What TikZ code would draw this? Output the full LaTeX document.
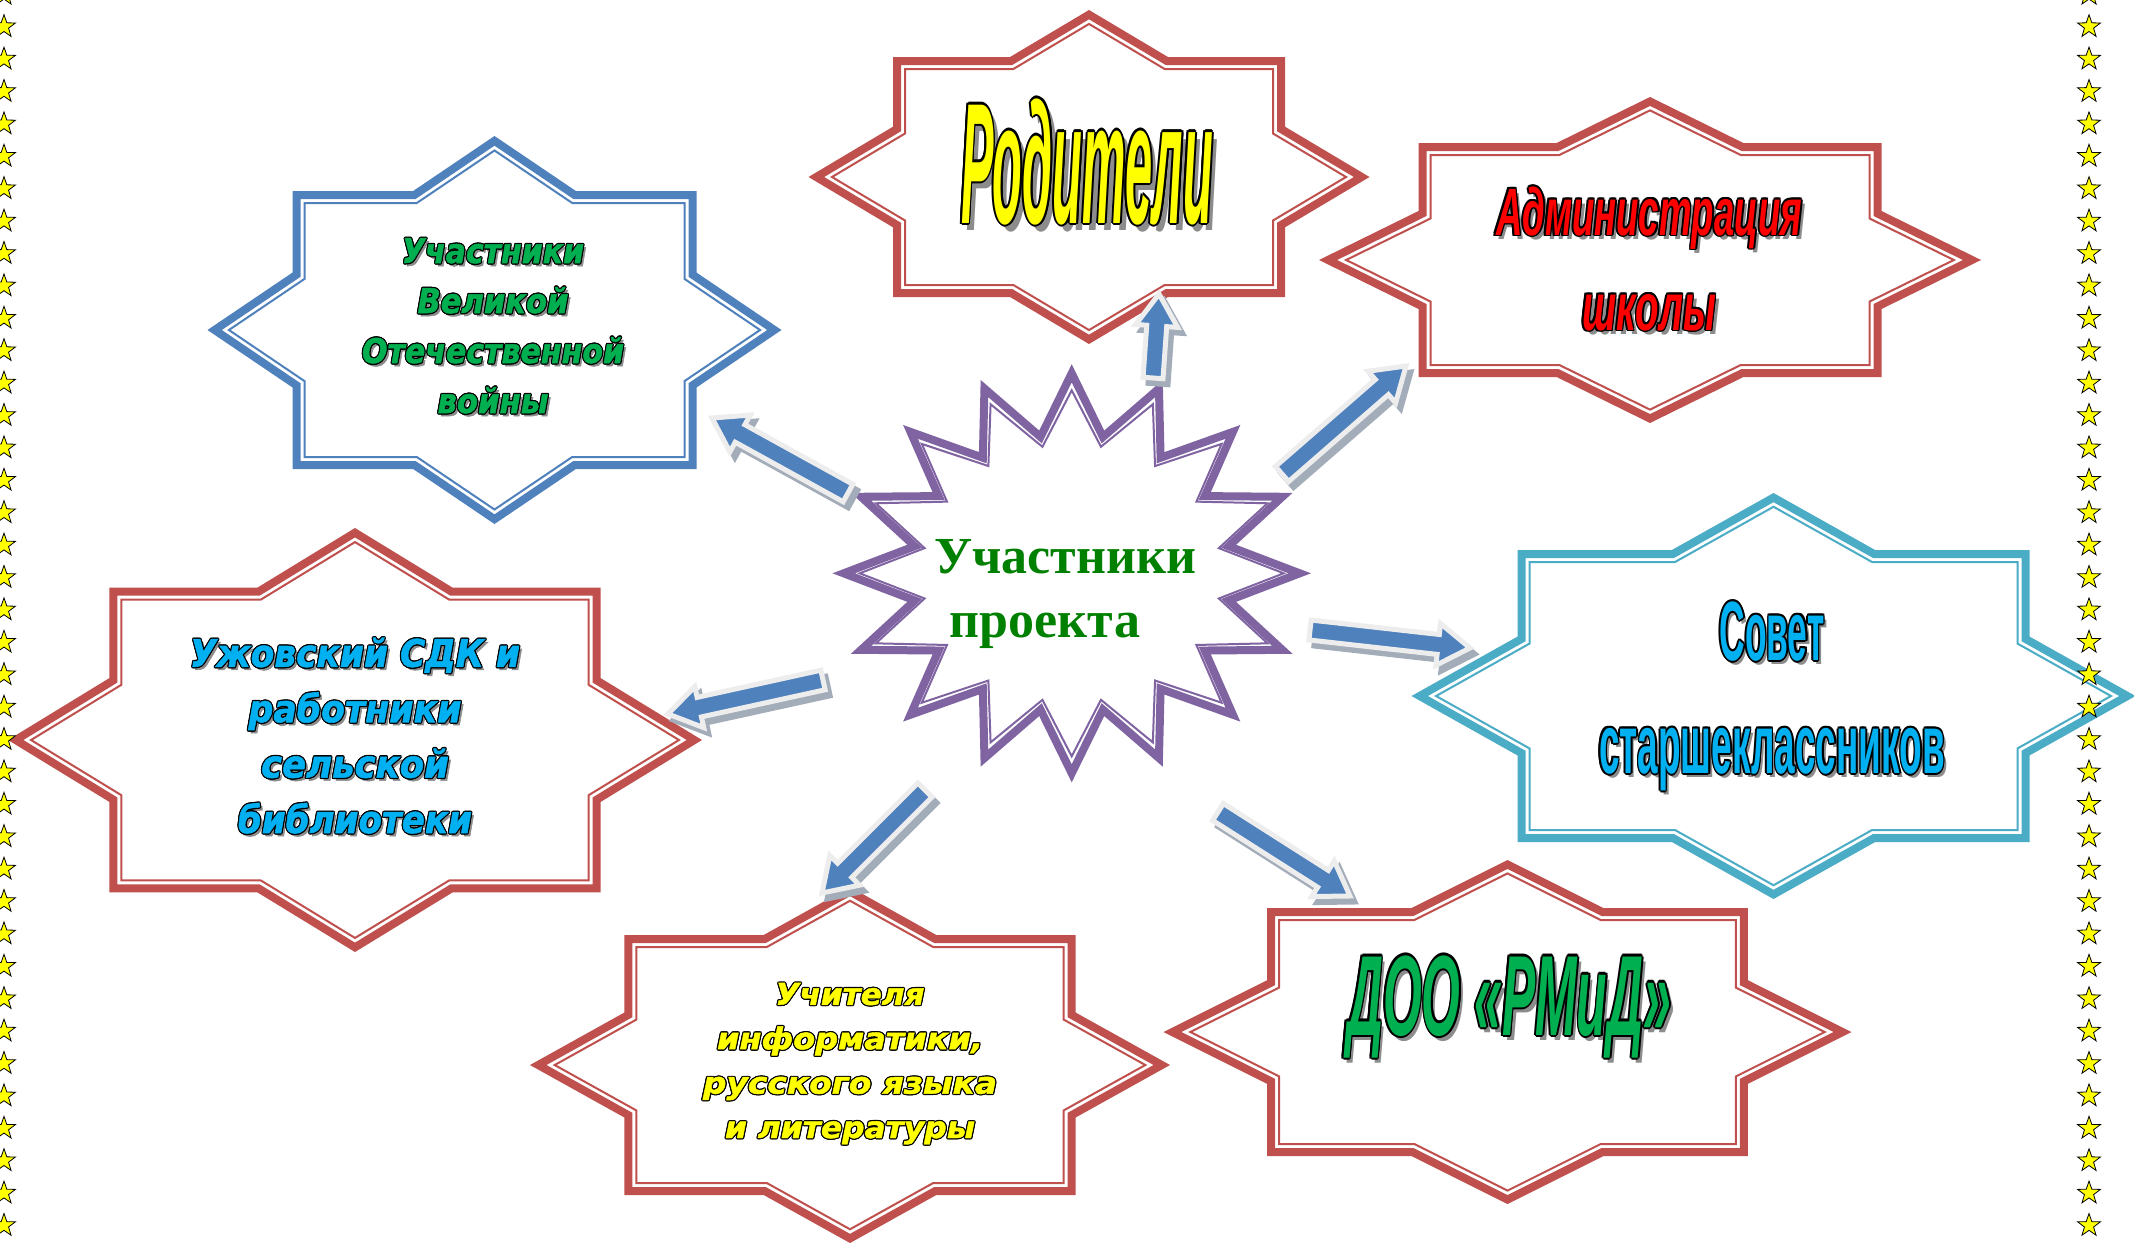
\documentclass[tikz,border=0pt]{standalone}
\usepackage{fontspec}
\usepackage{graphicx}
\setmainfont{Liberation Serif}
\newfontfamily\serifb{Liberation Serif}
\newfontfamily\widef{DejaVu Sans}[BoldItalicFont={DejaVu Sans Bold Oblique}, BoldItalicFeatures={FakeBold=1.5}]
\newfontfamily\narf{Liberation Sans}[FakeStretch=0.55]
\newfontfamily\narx{Liberation Sans}[FakeStretch=0.35]
\definecolor{redb}{HTML}{C0504D}
\definecolor{blueb}{HTML}{4F81BD}
\definecolor{cyanb}{HTML}{4BACC6}
\definecolor{purp}{HTML}{8064A2}
\definecolor{grn}{HTML}{00B050}
\definecolor{cyt}{HTML}{00B0F0}
\definecolor{ylw}{HTML}{FFFF00}
\definecolor{rdt}{HTML}{FF0000}
\definecolor{cgreen}{HTML}{008000}
\definecolor{shd}{HTML}{8C8C8C}
\definecolor{arrblue}{HTML}{4F81BD}
\definecolor{arrborder}{HTML}{EDEDED}
\definecolor{arrshadow}{HTML}{A3ACB9}
\newlength\pxu \setlength\pxu{0.5pt}
\newlength\olw \newlength\shw
\newcommand\wa[2]{%
 \setbox0\hbox{#2}%
 \hbox{%
  \ifdim\shw>0pt\rlap{\kern\shw\raisebox{-\shw}{\textcolor{shd}{\copy0}}}\fi
  \rlap{\kern\olw\textcolor{black}{\copy0}}%
  \rlap{\kern-\olw\textcolor{black}{\copy0}}%
  \rlap{\raisebox{\olw}{\textcolor{black}{\copy0}}}%
  \rlap{\raisebox{-\olw}{\textcolor{black}{\copy0}}}%
  \rlap{\kern0.7\olw\raisebox{0.7\olw}{\textcolor{black}{\copy0}}}%
  \rlap{\kern0.7\olw\raisebox{-0.7\olw}{\textcolor{black}{\copy0}}}%
  \rlap{\kern-0.7\olw\raisebox{0.7\olw}{\textcolor{black}{\copy0}}}%
  \rlap{\kern-0.7\olw\raisebox{-0.7\olw}{\textcolor{black}{\copy0}}}%
  \textcolor{#1}{\copy0}}}
\newcommand\wl[3]{\resizebox{#2\pxu}{\height}{\wa{#1}{#3}}}
% octagram path: RW RH DW DH inset style
\newcommand\octpath[6]{%
 \pgfmathsetmacro\oRA{#1-#5}%
 \pgfmathsetmacro\oRB{#2-#5}%
 \pgfmathsetmacro\oFK{1-#5*veclen(#3/100,#4/100)*100/#3/#4}%
 \pgfmathsetmacro\oDA{#3*\oFK}%
 \pgfmathsetmacro\oDB{#4*\oFK}%
 \pgfmathsetmacro\oQA{\oDA*(1-\oRB/\oDB)}%
 \pgfmathsetmacro\oQB{\oDB*(1-\oRA/\oDA)}%
 \path[#6] (0,-\oDB) -- (\oQA,-\oRB) -- (\oRA,-\oRB) -- (\oRA,-\oQB) -- (\oDA,0) -- (\oRA,\oQB) -- (\oRA,\oRB) -- (\oQA,\oRB) -- (0,\oDB) -- (-\oQA,\oRB) -- (-\oRA,\oRB) -- (-\oRA,\oQB) -- (-\oDA,0) -- (-\oRA,-\oQB) -- (-\oRA,-\oRB) -- (-\oQA,-\oRB) -- cycle;}
\newcommand\octshape[7]{%
 \begin{scope}[shift={(#1,#2)}]
  \octpath{#3}{#4}{#5}{#6}{4}{fill=white, draw=#7, line width=4pt, line join=miter}
  \octpath{#3}{#4}{#5}{#6}{12}{draw=#7, line width=1pt, line join=miter}
 \end{scope}}
\newcommand\blkarrow[5]{%
 \coordinate (#1t) at (#2,#3);
 \coordinate (#1h) at (#4,#5);
 \pgfmathsetmacro\aROT{-atan2(#5-#3,#4-#2)}%
 \pgfmathsetmacro\aLEN{veclen((#4-#2)/10,(#5-#3)/10)*10}%
 \pgfmathsetmacro\aHB{\aLEN-32}%
 \begin{scope}[shift={(#2+5,#3+6)}, rotate=\aROT]
  \filldraw[fill=arrshadow, draw=arrshadow, line width=2.5pt, line join=miter] (0,-10) -- (\aHB,-10) -- (\aHB,-21) -- (\aLEN,0) -- (\aHB,21) -- (\aHB,10) -- (0,10) -- cycle;
 \end{scope}
 \begin{scope}[shift={(#2,#3)}, rotate=\aROT]
  \filldraw[fill=arrblue, draw=arrborder, line width=2.5pt, line join=miter] (0,-10) -- (\aHB,-10) -- (\aHB,-21) -- (\aLEN,0) -- (\aHB,21) -- (\aHB,10) -- (0,10) -- cycle;
 \end{scope}}
\tikzset{
 txt/.style={inner sep=0pt, align=center},
 ystar/.pic={\filldraw[fill=ylw, draw=black, line width=0.4pt] (90:6pt) -- (126:2.4pt) -- (162:6pt) -- (198:2.4pt) -- (234:6pt) -- (270:2.4pt) -- (306:6pt) -- (342:2.4pt) -- (18:6pt) -- (54:2.4pt) -- cycle;}
}
\begin{document}
\begin{tikzpicture}[x=0.5pt,y=-0.5pt]
\useasboundingbox (0,0) rectangle (2134,1248);
\fill[white] (0,0) rectangle (2134,1248);
% shapes
\octshape{494.5}{330}{202}{139}{287}{194}{blueb}
\octshape{1089}{177}{196}{120}{280.5}{167}{redb}
\octshape{1650}{260}{231.5}{117}{331}{163}{redb}
\octshape{355}{740}{245.6}{152.3}{347}{212}{redb}
\octshape{850}{1065}{225.6}{130}{320}{178}{redb}
\octshape{1507.5}{1032}{240.4}{124}{344}{172}{redb}
\octshape{1773.5}{696}{256}{146}{362}{203}{cyanb}
% centre star
\filldraw[fill=white, draw=purp, line width=4pt, line join=miter] (1071.7,373.3) \foreach \k in {1,...,31} { -- ({1071.7+(194+34*cos(180*\k))*cos(-90+11.25*\k)},{573.3+(169.5+30.5*cos(180*\k))*sin(-90+11.25*\k)}) } -- cycle;
\draw[draw=purp, line width=1pt, line join=miter] (1071.7,390.3) \foreach \k in {1,...,31} { -- ({1071.7+(181+31*cos(180*\k))*cos(-90+11.25*\k)},{573.3+(156+27*cos(180*\k))*sin(-90+11.25*\k)}) } -- cycle;
% texts (anchor base = baseline of the last line)
\node[txt, anchor=base, text=cgreen, font={\serifb\bfseries\fontsize{26pt}{32pt}\selectfont}] (c) at (1065,637) {Участники\\проекта\hspace*{20pt}};
\node[txt, anchor=base, font={\widef\bfseries\itshape\fontsize{17pt}{25pt}\selectfont\setlength\olw{0.65pt}\setlength\shw{1.5pt}}] (s1) at (493,413) {\wl{grn}{182}{Участники}\\\wl{grn}{151}{Великой}\\\wl{grn}{262}{Отечественной}\\\wl{grn}{111}{войны}};
\node[txt, anchor=base, font={\narx\bfseries\itshape\fontsize{86pt}{100pt}\selectfont\setlength\olw{1.2pt}\setlength\shw{3.5pt}}] (s2) at (1087,223) {\wl{ylw}{252}{Родители}};
\node[txt, anchor=base, font={\narf\bfseries\itshape\fontsize{33.5pt}{47.5pt}\selectfont\setlength\olw{0.8pt}\setlength\shw{2pt}}] (s3) at (1649,330) {\wl{rdt}{306}{Администрация}\\\wl{rdt}{134}{школы}};
\node[txt, anchor=base, font={\widef\bfseries\itshape\fontsize{19pt}{27.7pt}\selectfont\setlength\olw{0.65pt}\setlength\shw{1.5pt}}] (s4) at (355,833) {\wl{cyt}{330}{Ужовский СДК и}\\\wl{cyt}{213}{работники}\\\wl{cyt}{188}{сельской}\\\wl{cyt}{234}{библиотеки}};
\node[txt, anchor=base, font={\widef\bfseries\itshape\fontsize{15pt}{22.2pt}\selectfont\setlength\olw{0.6pt}\setlength\shw{0pt}}] (s5) at (850,1138) {\wl{ylw}{149}{Учителя}\\\wl{ylw}{266}{информатики,}\\\wl{ylw}{294}{русского языка}\\\wl{ylw}{250}{и литературы}};
\node[txt, anchor=base, font={\narf\bfseries\itshape\fontsize{57pt}{70pt}\selectfont\setlength\olw{1.1pt}\setlength\shw{2.5pt}}] (s6) at (1509,1035) {\wl{grn}{324}{ДОО «РМиД»}};
\node[txt, anchor=base, font={\narf\bfseries\fontsize{42pt}{56.5pt}\selectfont\setlength\olw{1pt}\setlength\shw{2pt}}] (s7) at (1772,773) {\wl{cyt}{105}{Совет}\\\wl{cyt}{346}{старшеклассников}};
% arrows
\blkarrow{a1}{848}{493}{712}{418}
\blkarrow{a2}{1153}{378}{1159}{294}
\blkarrow{a3}{1282}{474}{1406}{366}
\blkarrow{a4}{1310}{630}{1470}{648}
\blkarrow{a5}{1218}{812}{1350}{896}
\blkarrow{a6}{925}{790}{822}{893}
\blkarrow{a7}{823}{680}{668}{714}
% star borders
\foreach \k in {-1,...,37} {
 \pic at (4,{26.7+32.4*\k}) {ystar};
 \pic at (2089,{26.7+32.4*\k}) {ystar};
}
\end{tikzpicture}
\end{document}
